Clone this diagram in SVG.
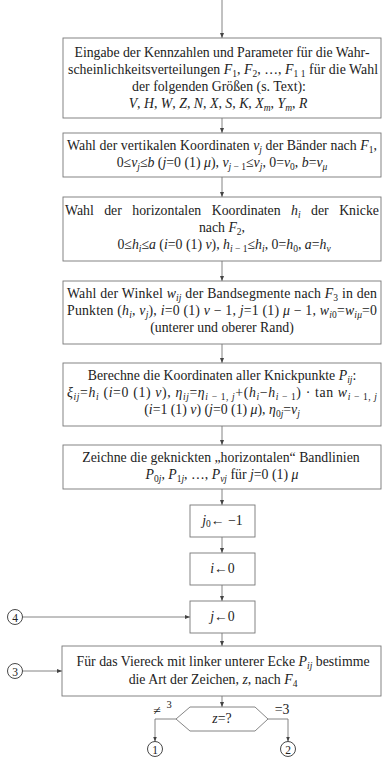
<svg xmlns="http://www.w3.org/2000/svg" width="382" height="761" viewBox="0 0 382 761">
<style>
.t{font-family:"Liberation Serif","Times New Roman",serif;font-size:13.8px;fill:#222;text-anchor:middle}
.i{font-style:italic}
.s{font-size:9.5px}
.box{fill:#fff;stroke:#777;stroke-width:0.9}
.ln{stroke:#777;stroke-width:0.9;fill:none}
.c{fill:#fff;stroke:#333;stroke-width:0.9}
.n{font-size:11.5px}
</style>
<defs>
<marker id="ah" markerWidth="5" markerHeight="4" refX="5" refY="2" orient="auto" markerUnits="userSpaceOnUse">
<path d="M0,0 L5,2 L0,4 z" fill="#444"/>
</marker>
</defs>
<rect width="382" height="761" fill="#fff"/>
<g id="connectors">
<line class="ln" x1="222" y1="0" x2="222" y2="38" marker-end="url(#ah)"/>
<line class="ln" x1="222" y1="118" x2="222" y2="133" marker-end="url(#ah)"/>
<line class="ln" x1="222" y1="177" x2="222" y2="197" marker-end="url(#ah)"/>
<line class="ln" x1="222" y1="261" x2="222" y2="281" marker-end="url(#ah)"/>
<line class="ln" x1="222" y1="344" x2="222" y2="363" marker-end="url(#ah)"/>
<line class="ln" x1="222" y1="426" x2="222" y2="445" marker-end="url(#ah)"/>
<line class="ln" x1="222" y1="489" x2="222" y2="505" marker-end="url(#ah)"/>
<line class="ln" x1="222" y1="537" x2="222" y2="553" marker-end="url(#ah)"/>
<line class="ln" x1="222" y1="585" x2="222" y2="601" marker-end="url(#ah)"/>
<line class="ln" x1="222" y1="633" x2="222" y2="646" marker-end="url(#ah)"/>
<line class="ln" x1="222" y1="696" x2="222" y2="707" marker-end="url(#ah)"/>
<line class="ln" x1="22.5" y1="617" x2="190" y2="617" marker-end="url(#ah)"/>
<line class="ln" x1="22.5" y1="671" x2="62" y2="671" marker-end="url(#ah)"/>
<polyline class="ln" points="176,719 155,719 155,741.5" marker-end="url(#ah)"/>
<polyline class="ln" points="268,719 288,719 288,741.5" marker-end="url(#ah)"/>
<text class="t" x="157" y="715">≠</text>
<text class="t" x="169" y="708" style="font-size:10.5px">3</text>
<text class="t" x="282" y="714">=3</text>
</g>
<g id="n1">
<rect class="box" x="63" y="38" width="318" height="80"/>
<text class="t" x="222" y="57" textLength="295" lengthAdjust="spacing">Eingabe der Kennzahlen und Parameter für die Wahr-</text>
<text class="t" x="223" y="74" textLength="310" lengthAdjust="spacing">scheinlichkeitsverteilungen <tspan class="i">F</tspan><tspan class="s" dy="3">1</tspan><tspan dy="-3">, </tspan><tspan class="i">F</tspan><tspan class="s" dy="3">2</tspan><tspan dy="-3">, …, </tspan><tspan class="i">F</tspan><tspan class="s" dy="3">1 1</tspan><tspan dy="-3"> für die Wahl</tspan></text>
<text class="t" x="219" y="91">der folgenden Größen (s. Text):</text>
<text class="t" x="218" y="108"><tspan class="i">V</tspan>, <tspan class="i">H</tspan>, <tspan class="i">W</tspan>, <tspan class="i">Z</tspan>, <tspan class="i">N</tspan>, <tspan class="i">X</tspan>, <tspan class="i">S</tspan>, <tspan class="i">K</tspan>, <tspan class="i">X</tspan><tspan class="s i" dy="3">m</tspan><tspan dy="-3">, </tspan><tspan class="i">Y</tspan><tspan class="s i" dy="3">m</tspan><tspan dy="-3">, </tspan><tspan class="i">R</tspan></text>
</g>
<g id="n2">
<rect class="box" x="63" y="133" width="318" height="44"/>
<text class="t" x="222" y="150" textLength="310" lengthAdjust="spacing">Wahl der vertikalen Koordinaten <tspan class="i">v</tspan><tspan class="s i" dy="3">j</tspan><tspan dy="-3"> der Bänder nach </tspan><tspan class="i">F</tspan><tspan class="s" dy="3">1</tspan><tspan dy="-3">,</tspan></text>
<text class="t" x="222" y="167">0≤<tspan class="i">v</tspan><tspan class="s i" dy="3">j</tspan><tspan dy="-3">≤</tspan><tspan class="i">b</tspan> (<tspan class="i">j</tspan>=0 (1) <tspan class="i">μ</tspan>), <tspan class="i">v</tspan><tspan class="s" dy="3"><tspan class="i">j</tspan> − 1</tspan><tspan dy="-3">≤</tspan><tspan class="i">v</tspan><tspan class="s i" dy="3">j</tspan><tspan dy="-3">, 0=</tspan><tspan class="i">v</tspan><tspan class="s" dy="3">0</tspan><tspan dy="-3">, </tspan><tspan class="i">b</tspan>=<tspan class="i">v</tspan><tspan class="s i" dy="3">μ</tspan></text>
</g>
<g id="n3">
<rect class="box" x="63" y="197" width="318" height="64"/>
<text class="t" x="222" y="215" style="word-spacing:7px">Wahl der horizontalen Koordinaten <tspan class="i">h</tspan><tspan class="s i" dy="3">i</tspan><tspan dy="-3"> der Knicke</tspan></text>
<text class="t" x="222" y="232">nach <tspan class="i">F</tspan><tspan class="s" dy="3">2</tspan><tspan dy="-3">,</tspan></text>
<text class="t" x="224" y="249">0≤<tspan class="i">h</tspan><tspan class="s i" dy="3">i</tspan><tspan dy="-3">≤</tspan><tspan class="i">a</tspan> (<tspan class="i">i</tspan>=0 (1) <tspan class="i">ν</tspan>), <tspan class="i">h</tspan><tspan class="s" dy="3"><tspan class="i">i</tspan> − 1</tspan><tspan dy="-3">≤</tspan><tspan class="i">h</tspan><tspan class="s i" dy="3">i</tspan><tspan dy="-3">, 0=</tspan><tspan class="i">h</tspan><tspan class="s" dy="3">0</tspan><tspan dy="-3">, </tspan><tspan class="i">a</tspan>=<tspan class="i">h</tspan><tspan class="s i" dy="3">ν</tspan></text>
</g>
<g id="n4">
<rect class="box" x="63" y="281" width="318" height="63"/>
<text class="t" x="222" y="298" textLength="310" lengthAdjust="spacing">Wahl der Winkel <tspan class="i">w</tspan><tspan class="s i" dy="3">ij</tspan><tspan dy="-3"> der Bandsegmente nach </tspan><tspan class="i">F</tspan><tspan class="s" dy="3">3</tspan><tspan dy="-3"> in den</tspan></text>
<text class="t" x="222" y="315" textLength="310" lengthAdjust="spacing">Punkten (<tspan class="i">h</tspan><tspan class="s i" dy="3">i</tspan><tspan dy="-3">, </tspan><tspan class="i">v</tspan><tspan class="s i" dy="3">j</tspan><tspan dy="-3">), </tspan><tspan class="i">i</tspan>=0 (1) <tspan class="i">ν</tspan> − 1, <tspan class="i">j</tspan>=1 (1) <tspan class="i">μ</tspan> − 1, <tspan class="i">w</tspan><tspan class="s" dy="3"><tspan class="i">i</tspan>0</tspan><tspan dy="-3">=</tspan><tspan class="i">w</tspan><tspan class="s i" dy="3">iμ</tspan><tspan dy="-3">=0</tspan></text>
<text class="t" x="222" y="332">(unterer und oberer Rand)</text>
</g>
<g id="n5">
<rect class="box" x="63" y="363" width="318" height="63"/>
<text class="t" x="222" y="380">Berechne die Koordinaten aller Knickpunkte <tspan class="i">P</tspan><tspan class="s i" dy="3">ij</tspan><tspan dy="-3">:</tspan></text>
<text class="t" x="222" y="397" textLength="310" lengthAdjust="spacing"><tspan class="i">ξ</tspan><tspan class="s i" dy="3">ij</tspan><tspan dy="-3">=</tspan><tspan class="i">h</tspan><tspan class="s i" dy="3">i</tspan><tspan dy="-3"> (</tspan><tspan class="i">i</tspan>=0 (1) <tspan class="i">ν</tspan>), <tspan class="i">η</tspan><tspan class="s i" dy="3">ij</tspan><tspan dy="-3">=</tspan><tspan class="i">η</tspan><tspan class="s" dy="3"><tspan class="i">i</tspan> − 1, <tspan class="i">j</tspan></tspan><tspan dy="-3">+(</tspan><tspan class="i">h</tspan><tspan class="s i" dy="3">i</tspan><tspan dy="-3">−</tspan><tspan class="i">h</tspan><tspan class="s" dy="3"><tspan class="i">i</tspan> − 1</tspan><tspan dy="-3">) · tan </tspan><tspan class="i">w</tspan><tspan class="s" dy="3"><tspan class="i">i</tspan> − 1, <tspan class="i">j</tspan></tspan></text>
<text class="t" x="222" y="414">(<tspan class="i">i</tspan>=1 (1) <tspan class="i">ν</tspan>) (<tspan class="i">j</tspan>=0 (1) <tspan class="i">μ</tspan>), <tspan class="i">η</tspan><tspan class="s" dy="3">0<tspan class="i">j</tspan></tspan><tspan dy="-3">=</tspan><tspan class="i">v</tspan><tspan class="s i" dy="3">j</tspan></text>
</g>
<g id="n6">
<rect class="box" x="63" y="445" width="318" height="44"/>
<text class="t" x="221" y="462">Zeichne die geknickten „horizontalen“ Bandlinien</text>
<text class="t" x="222" y="479"><tspan class="i">P</tspan><tspan class="s" dy="3">0<tspan class="i">j</tspan></tspan><tspan dy="-3">, </tspan><tspan class="i">P</tspan><tspan class="s" dy="3">1<tspan class="i">j</tspan></tspan><tspan dy="-3">, …, </tspan><tspan class="i">P</tspan><tspan class="s i" dy="3">νj</tspan><tspan dy="-3">  für  </tspan><tspan class="i">j</tspan>=0 (1) <tspan class="i">μ</tspan></text>
</g>
<g id="n7">
<rect class="box" x="190" y="505" width="65" height="32"/>
<text class="t" x="222.5" y="525"><tspan class="i">j</tspan><tspan class="s" dy="2">0</tspan><tspan dy="-2">← −1</tspan></text>
</g>
<g id="n8">
<rect class="box" x="190" y="553" width="65" height="32"/>
<text class="t" x="222.5" y="573"><tspan class="i">i</tspan>←0</text>
</g>
<g id="n9">
<rect class="box" x="190" y="601" width="65" height="32"/>
<text class="t" x="222.5" y="621"><tspan class="i">j</tspan>←0</text>
</g>
<g id="n10">
<rect class="box" x="62" y="646" width="319" height="50"/>
<text class="t" x="223" y="666" textLength="293" lengthAdjust="spacing">Für das Viereck mit linker unterer Ecke <tspan class="i">P</tspan><tspan class="s i" dy="3">ij</tspan><tspan dy="-3"> bestimme</tspan></text>
<text class="t" x="213" y="684">die Art der Zeichen, <tspan class="i">z</tspan>, nach <tspan class="i">F</tspan><tspan class="s" dy="3">4</tspan></text>
</g>
<g id="n11">
<polygon class="box" points="176,719 190,707 255,707 268,719 255,731 190,731"/>
<text class="t" x="222" y="723"><tspan class="i">z</tspan>=?</text>
</g>
<g id="c4"><circle class="c" cx="15" cy="617" r="7.5"/><text class="t n" x="15" y="621.5">4</text></g>
<g id="c3"><circle class="c" cx="15" cy="671" r="7.5"/><text class="t n" x="15" y="675.5">3</text></g>
<g id="c1"><circle class="c" cx="155" cy="749" r="7.5"/><text class="t n" x="155" y="753.5">1</text></g>
<g id="c2"><circle class="c" cx="288" cy="749" r="7.5"/><text class="t n" x="288" y="753.5">2</text></g>
</svg>
